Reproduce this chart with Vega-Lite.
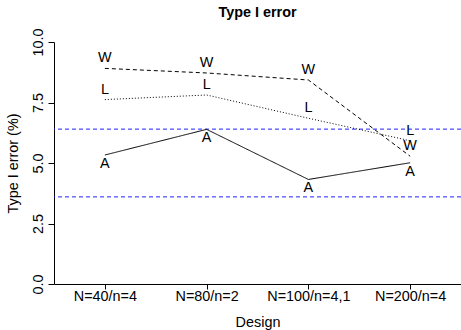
{
  "$schema": "https://vega.github.io/schema/vega-lite/v6.json",
  "width": 407,
  "height": 242,
  "autosize": {"type": "none"},
  "padding": {"left": 54, "top": 42, "right": 0, "bottom": 46},
  "background": "white",
  "config": {
    "view": {"stroke": null},
    "font": "Liberation Sans",
    "axis": {"grid": false, "domainColor": "black", "tickColor": "black", "labelColor": "black", "titleColor": "black", "labelFont": "Liberation Sans", "titleFont": "Liberation Sans", "labelFontSize": 14.4, "titleFontSize": 14.4, "titleFontWeight": "normal", "domainWidth": 1, "tickWidth": 1}
  },
  "title": {"text": "Type I error", "font": "Liberation Sans", "fontSize": 14.4, "fontWeight": "bold", "color": "black", "offset": 8, "anchor": "middle"},
  "datasets": {
    "err": [
      {"design": "N=40/n=4", "series": "W", "value": 8.91},
      {"design": "N=80/n=2", "series": "W", "value": 8.72},
      {"design": "N=100/n=4,1", "series": "W", "value": 8.43},
      {"design": "N=200/n=4", "series": "W", "value": 5.28},
      {"design": "N=40/n=4", "series": "L", "value": 7.62},
      {"design": "N=80/n=2", "series": "L", "value": 7.81},
      {"design": "N=100/n=4,1", "series": "L", "value": 6.85},
      {"design": "N=200/n=4", "series": "L", "value": 5.92},
      {"design": "N=40/n=4", "series": "A", "value": 5.33},
      {"design": "N=80/n=2", "series": "A", "value": 6.39},
      {"design": "N=100/n=4,1", "series": "A", "value": 4.32},
      {"design": "N=200/n=4", "series": "A", "value": 5.01}
    ],
    "bounds": [{"b": 6.4}, {"b": 3.6}]
  },
  "layer": [
    {
      "data": {"name": "bounds"},
      "mark": {"type": "rule", "color": "#2020ff", "strokeDash": [4, 3], "strokeWidth": 1},
      "encoding": {"y": {"field": "b", "type": "quantitative", "scale": {"domain": [0, 10]}}}
    },
    {
      "data": {"name": "err"},
      "mark": {"type": "line", "color": "black", "strokeWidth": 1},
      "encoding": {
        "x": {"field": "design", "type": "nominal", "sort": ["N=40/n=4", "N=80/n=2", "N=100/n=4,1", "N=200/n=4"], "scale": {"type": "point", "padding": 0.5}, "title": "Design", "axis": {"labelAngle": 0, "tickSize": 5, "labelPadding": 0, "titlePadding": 13}},
        "y": {"field": "value", "type": "quantitative", "scale": {"domain": [0, 10], "nice": false, "zero": false}, "title": "Type I error (%)", "axis": {"values": [0, 2.5, 5, 7.5, 10], "format": ".1f", "labelAngle": -90, "labelAlign": "center", "labelBaseline": "bottom", "tickSize": 6, "labelPadding": 3, "titlePadding": 10}},
        "detail": {"field": "series"},
        "strokeDash": {"field": "series", "type": "nominal", "scale": {"domain": ["W", "L", "A"], "range": [[4, 3], [1, 2], [1, 0]]}, "legend": null}
      }
    },
    {
      "data": {"name": "err"},
      "transform": [{"filter": "datum.series !== 'A'"}],
      "mark": {"type": "text", "font": "Liberation Sans", "fontSize": 14.4, "color": "black", "dy": -10, "baseline": "middle"},
      "encoding": {
        "x": {"field": "design", "type": "nominal", "sort": ["N=40/n=4", "N=80/n=2", "N=100/n=4,1", "N=200/n=4"]},
        "y": {"field": "value", "type": "quantitative"},
        "text": {"field": "series"}
      }
    },
    {
      "data": {"name": "err"},
      "transform": [{"filter": "datum.series === 'A'"}],
      "mark": {"type": "text", "font": "Liberation Sans", "fontSize": 14.4, "color": "black", "dy": 9, "baseline": "middle"},
      "encoding": {
        "x": {"field": "design", "type": "nominal", "sort": ["N=40/n=4", "N=80/n=2", "N=100/n=4,1", "N=200/n=4"]},
        "y": {"field": "value", "type": "quantitative"},
        "text": {"field": "series"}
      }
    }
  ]
}
